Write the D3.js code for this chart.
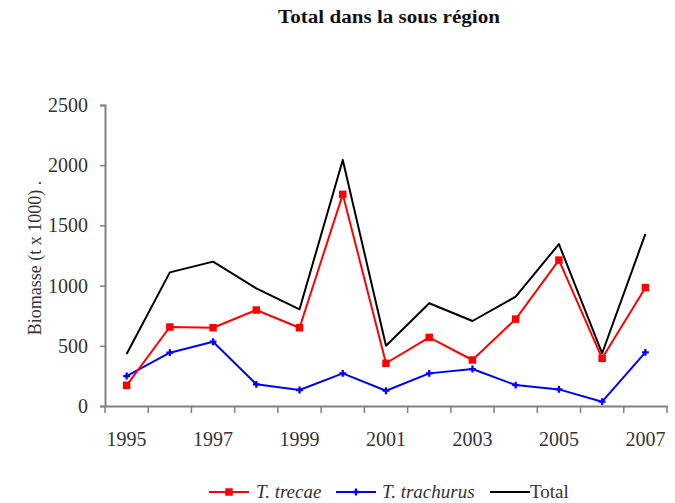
<!DOCTYPE html>
<html>
<head>
<meta charset="utf-8">
<script src="https://cdn.jsdelivr.net/npm/d3@7"></script>
<style>
  body { margin: 0; background: #fff; }
  svg { display: block; }
</style>
</head>
<body>
<div id="chart"></div>
<script>
const years = [1995, 1996, 1997, 1998, 1999, 2000, 2001, 2002, 2003, 2004, 2005, 2006, 2007];
const trecae = [172, 656, 650, 797, 650, 1758, 355, 570, 382, 722, 1212, 396, 983];
const trachurus = [249, 443, 534, 180, 133, 271, 127, 271, 307, 174, 138, 36, 446];
const total = [432, 1110, 1199, 977, 803, 2043, 501, 853, 706, 908, 1345, 438, 1429];
const yTicks = [0, 500, 1000, 1500, 2000, 2500];
const labelYears = [1995, 1997, 1999, 2001, 2003, 2005, 2007];

const series = [
  { name: 'T. trecae', values: trecae, color: '#ff0000', symbol: d3.symbolSquare, size: 56, italic: true },
  { name: 'T. trachurus', values: trachurus, color: '#0000ff', symbol: d3.symbolCross, size: 26, italic: true },
  { name: 'Total', values: total, color: '#000000', symbol: null, italic: false },
];

const width = 675;
const height = 503;
const margin = { top: 105, right: 8, bottom: 97, left: 105 };
const axisColor = '#808080';
const serif = "'Liberation Serif', 'Times New Roman', serif";

const svg = d3
  .select('#chart')
  .append('svg')
  .attr('width', width)
  .attr('height', height)
  .style('font-family', serif);

const xScale = d3
  .scaleBand()
  .domain(years)
  .range([margin.left, width - margin.right])
  .padding(0);

const yScale = d3
  .scaleLinear()
  .domain([0, 2500])
  .range([height - margin.bottom, margin.top]);

// title
svg
  .append('text')
  .attr('x', 389)
  .attr('y', 23)
  .attr('text-anchor', 'middle')
  .style('font-family', serif)
  .style('font-size', '18px')
  .style('font-weight', 700)
  .attr('fill', '#111')
  .attr('textLength', 222)
  .attr('lengthAdjust', 'spacingAndGlyphs')
  .text('Total  dans la sous région');

// y axis
const yAxis = svg
  .append('g')
  .attr('transform', `translate(${margin.left},0)`)
  .call(
    d3.axisLeft(yScale).tickValues(yTicks).tickSize(5).tickPadding(12).tickFormat(d3.format('d'))
  );
yAxis.select('.domain').attr('stroke', axisColor).attr('stroke-width', 2);
yAxis.selectAll('line').attr('stroke', axisColor).attr('stroke-width', 1.5);
yAxis
  .selectAll('text')
  .style('font-family', serif)
  .style('font-size', '20px')
  .attr('fill', '#333');

// x axis
const xAxis = svg
  .append('g')
  .attr('transform', `translate(0,${yScale(0)})`)
  .call(d3.axisBottom(xScale).tickValues(labelYears).tickSize(0).tickPadding(26));
xAxis.select('.domain').attr('stroke', axisColor).attr('stroke-width', 2);
xAxis
  .selectAll('text')
  .style('font-family', serif)
  .style('font-size', '20px')
  .attr('fill', '#333');

const boundaries = years.map((d) => xScale(d)).concat([xScale.range()[1]]);
xAxis
  .selectAll('.bound')
  .data(boundaries)
  .join('line')
  .attr('class', 'bound')
  .attr('x1', (d) => d)
  .attr('x2', (d) => d)
  .attr('y1', 0)
  .attr('y2', 7)
  .attr('stroke', axisColor)
  .attr('stroke-width', 1.5);

// y label
svg
  .append('text')
  .attr('transform', 'translate(41,258) rotate(-90)')
  .attr('text-anchor', 'middle')
  .style('font-family', serif)
  .style('font-size', '18px')
  .attr('fill', '#333')
  .text('Biomasse (t x 1000) .');

// lines
const line = d3
  .line()
  .x((d, i) => xScale(years[i]) + xScale.bandwidth() / 2)
  .y((d) => yScale(d));

const plot = svg.append('g');

series
  .slice()
  .reverse()
  .forEach((s) => {
    plot
      .append('path')
      .datum(s.values)
      .attr('fill', 'none')
      .attr('stroke', s.color)
      .attr('stroke-width', 2)
      .attr('stroke-linejoin', 'round')
      .attr('d', line);

    if (s.symbol) {
      plot
        .selectAll(null)
        .data(s.values)
        .join('path')
        .attr(
          'transform',
          (d, i) => `translate(${xScale(years[i]) + xScale.bandwidth() / 2},${yScale(d)})`
        )
        .attr('d', d3.symbol(s.symbol, s.size))
        .attr('fill', s.color);
    }
  });

// legend
const legendX = [209, 336, 490];
const legendTextX = [256, 382, 530];
const legendY = 492;
const legend = svg.append('g');

series.forEach((s, i) => {
  legend
    .append('line')
    .attr('x1', legendX[i])
    .attr('x2', legendX[i] + 40)
    .attr('y1', legendY)
    .attr('y2', legendY)
    .attr('stroke', s.color)
    .attr('stroke-width', 2);
  if (s.symbol) {
    legend
      .append('path')
      .attr('transform', `translate(${legendX[i] + 20},${legendY})`)
      .attr('d', d3.symbol(s.symbol, s.size))
      .attr('fill', s.color);
  }
  legend
    .append('text')
    .attr('x', legendTextX[i])
    .attr('y', legendY + 6)
    .style('font-family', serif)
    .style('font-size', '19px')
    .style('font-style', s.italic ? 'italic' : 'normal')
    .attr('fill', '#333')
    .text(s.name);
});
</script>
</body>
</html>
